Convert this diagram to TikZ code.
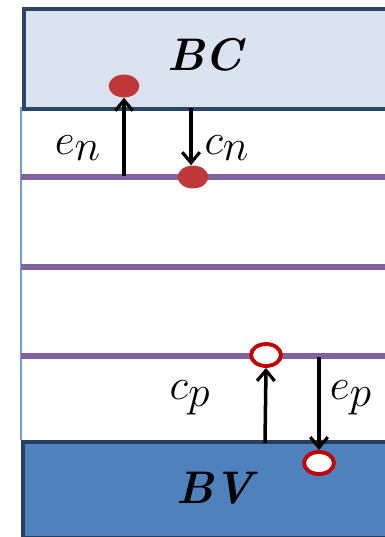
\documentclass[tikz,border=0pt]{standalone}
\usetikzlibrary{shapes.geometric,arrows.meta}
\definecolor{bcfill}{HTML}{DCE3F0}
\definecolor{bcdraw}{HTML}{2C4565}
\definecolor{bvfill}{HTML}{4F81BD}
\definecolor{bvdraw}{HTML}{243F60}
\definecolor{lvl}{HTML}{8064A2}
\definecolor{dotred}{HTML}{C0393A}
\definecolor{ringred}{HTML}{C00000}
\definecolor{edge}{HTML}{7A9CCB}
\begin{document}
\begin{tikzpicture}[x=0.02cm,y=-0.02cm,
  level/.style={lvl,line width=3pt},
  electron/.style={ellipse,fill=dotred,minimum width=17.5pt,minimum height=13pt,inner sep=0pt},
  hole/.style={ellipse,fill=white,draw=ringred,line width=2.2pt,minimum width=17pt,minimum height=12.5pt,inner sep=0pt},
  trans/.style={line width=2pt,-{Straight Barb[length=6pt,width=10pt,line width=1.8pt]}},
  lab/.style={font=\fontsize{35}{40}\selectfont},
  band/.style={font=\fontsize{26}{30}\selectfont\bfseries\itshape}]
\useasboundingbox (0,0) rectangle (385,537);
\fill[white] (0,0) rectangle (385,537);
% left edge line
\draw[edge,line width=0.7pt] (21,107) -- (21,440);
% BC band
\node[draw=bcdraw,fill=bcfill,line width=2.5pt,minimum width=380*0.02cm,minimum height=100*0.02cm,anchor=north west,inner sep=0pt] (bc) at (22,7) {};
\node[band] (bclab) at (205,55) {BC};
% BV band
\node[draw=bvdraw,fill=bvfill,line width=2.5pt,minimum width=380*0.02cm,minimum height=96*0.02cm,anchor=north west,inner sep=0pt] (bv) at (21,440) {};
\node[band] (bvlab) at (215,488) {BV};
% trap levels
\draw[level] (21,177) -- (390,177);
\draw[level] (21,267) -- (390,267);
\draw[level] (21,356) -- (390,356);
% electrons
\node[electron] (e1) at (124,86) {};
\node[electron] (e2) at (193,177) {};
\coordinate (enstart) at (124,176);
\coordinate (cnstart) at (191,108);
\draw[trans] (enstart) -- (e1.south);
\draw[trans] (cnstart) -- ([xshift=-2*0.02cm]e2.north);
\node[lab] (en) at (78,148) {$e_n$};
\node[lab] (cn) at (227,148) {$c_n$};
% holes
\node[hole] (h1) at (266,355) {};
\node[hole] (h2) at (319,463) {};
\coordinate (cpstart) at (265,443);
\coordinate (epstart) at (319,357);
\draw[trans] (cpstart) -- (h1.south);
\draw[trans] (epstart) -- (h2.north);
\node[lab] (cp) at (190,398) {$c_p$};
\node[lab] (ep) at (351,398) {$e_p$};
\end{tikzpicture}
\end{document}
